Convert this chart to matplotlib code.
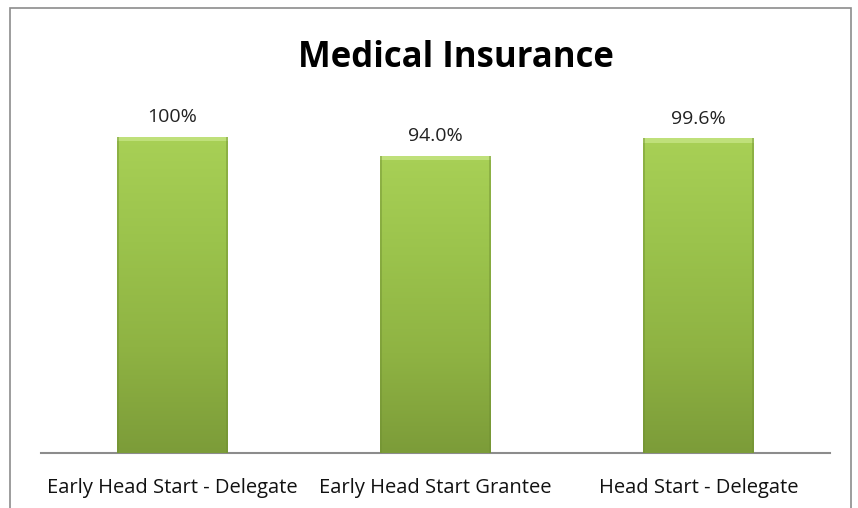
import numpy as np
import matplotlib.pyplot as plt
from matplotlib.colors import LinearSegmentedColormap
from matplotlib.patches import Rectangle

categories = ["Early Head Start - Delegate", "Early Head Start Grantee", "Head Start - Delegate"]
values = [100.0, 94.0, 99.6]
value_labels = ["100%", "94.0%", "99.6%"]

W, H = 858, 508
fig = plt.figure(figsize=(W / 100, H / 100), dpi=100)
fig.patch.set_facecolor("white")

# outer chart border (runs off the bottom of the picture)
fig.patches.append(Rectangle((10 / W, -0.05), 841 / W, 1.05 - 8 / H, transform=fig.transFigure,
                             fill=False, edgecolor="#8c8c8c", linewidth=1.2))

# plot area: baseline at y=453, 100% at y=137
left, right = 41 / W, 830 / W
bottom = 1 - 453 / H
top100 = 1 - 137 / H
ax = fig.add_axes([left, bottom, right - left, (top100 - bottom) * 1.1])
ax.set_xlim(-0.5, 2.5)
ax.set_ylim(0, 110)

x = np.arange(len(categories))
bars = ax.bar(x, values, width=0.42, color="#9bc34c", edgecolor="none", zorder=2)

cmap = LinearSegmentedColormap.from_list("g", ["#7c9c39", "#8fb343", "#9bc34c", "#a8d056"])
grad = np.linspace(0, 1, 256).reshape(-1, 1)
for b in bars:
    x0, w, h = b.get_x(), b.get_width(), b.get_height()
    im = ax.imshow(grad, cmap=cmap, aspect="auto", extent=[x0, x0 + w, 0, h],
                   origin="lower", zorder=3)
    im.set_clip_path(b)
    # bevel highlight on top and darker sides
    ax.add_patch(Rectangle((x0, h - 1.4), w, 1.4, color="#bfe07a", zorder=4, linewidth=0))
    ax.add_patch(Rectangle((x0, 0), w * 0.02, h, color="#6f8f32", alpha=0.45, zorder=4, linewidth=0))
    ax.add_patch(Rectangle((x0 + w * 0.98, 0), w * 0.02, h, color="#6f8f32", alpha=0.45, zorder=4, linewidth=0))

for xi, v, lab in zip(x, values, value_labels):
    ax.annotate(lab, (xi, v), xytext=(0, 10.5), textcoords="offset points",
                ha="center", va="baseline", fontsize=14, family="Open Sans", color="#222222")

for s in ["top", "right", "left"]:
    ax.spines[s].set_visible(False)
ax.spines["bottom"].set_color("#8c8c8c")
ax.spines["bottom"].set_linewidth(1.5)
ax.set_yticks([])
ax.set_xticks(x)
ax.set_xticklabels(categories, fontsize=14.5, family="Open Sans", color="#111111")
ax.tick_params(axis="x", length=0, pad=18)

fig.text(456 / W, 1 - 67 / H, "Medical Insurance", ha="center", va="baseline",
         fontsize=25, fontweight="bold", family="Open Sans", color="black")

fig.savefig("out.png", dpi=100)
